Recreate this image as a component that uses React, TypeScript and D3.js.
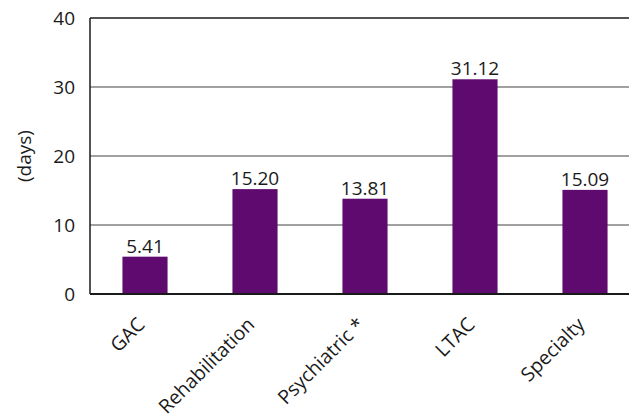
import React from "react";
import * as d3 from "d3";

// Average length of stay by hospital type
const categories = ["GAC", "Rehabilitation", "Psychiatric*", "LTAC", "Specialty"];
const lengthOfStay = [5.41, 15.2, 13.81, 31.12, 15.09];
const valueLabels = ["5.41", "15.20", "13.81", "31.12", "15.09"];
const yTicks = [0, 10, 20, 30, 40];

const W = 629;
const H = 419;
const FONT = "'Open Sans', 'Noto Sans', sans-serif";
const BAR = "#5e0a6e";

export default function App() {
  const x = d3
    .scaleBand<string>()
    .domain(categories)
    .range([90, 640])
    .paddingInner(0.59)
    .paddingOuter(0.295);
  const y = d3.scaleLinear().domain([0, 40]).range([294, 18]);

  return (
    <svg
      width={W}
      height={H}
      style={{ position: "absolute", left: 0, top: 0, background: "#fff" }}
      fontFamily={FONT}
    >
      {/* horizontal gridlines */}
      {yTicks
        .filter((t) => t !== 0 && t !== 40)
        .map((t) => (
          <line key={t} x1={90} x2={W} y1={y(t)} y2={y(t)} stroke="#808080" strokeWidth={1.5} />
        ))}
      <line x1={90} x2={W} y1={y(40)} y2={y(40)} stroke="#1a1a1a" strokeWidth={1.5} />

      {/* bars */}
      {categories.map((c, i) => (
        <rect
          key={c}
          x={x(c)}
          y={y(lengthOfStay[i])}
          width={x.bandwidth()}
          height={y(0) - y(lengthOfStay[i])}
          fill={BAR}
        />
      ))}

      {/* value labels */}
      {categories.map((c, i) => (
        <text
          key={c}
          x={(x(c) as number) + x.bandwidth() / 2}
          y={y(lengthOfStay[i]) - 4}
          textAnchor="middle"
          fontSize={19}
          fill="#1a1a1a"
        >
          {valueLabels[i]}
        </text>
      ))}

      {/* axes */}
      <line x1={90} x2={90} y1={y(40)} y2={y(0)} stroke="#1a1a1a" strokeWidth={1.5} />
      <line x1={90} x2={W} y1={y(0)} y2={y(0)} stroke="#1a1a1a" strokeWidth={2} />

      {yTicks.map((t) => (
        <text
          key={t}
          x={75}
          y={y(t)}
          dy="0.35em"
          textAnchor="end"
          fontSize={19}
          fill="#1a1a1a"
        >
          {t}
        </text>
      ))}

      <text
        transform={`translate(24,${(y(0) + y(40)) / 2}) rotate(-90)`}
        dy="0.35em"
        textAnchor="middle"
        fontSize={19}
        fill="#1a1a1a"
      >
        (days)
      </text>

      {categories.map((c) => {
        const cx = (x(c) as number) + x.bandwidth() / 2;
        const label = c === "Psychiatric*" ? "Psychiatric *" : c;
        return (
          <text
            key={c}
            transform={`translate(${cx - 4},321) rotate(-45)`}
            dy="0.35em"
            textAnchor="end"
            fontSize={19.5}
            fill="#1a1a1a"
          >
            {label}
          </text>
        );
      })}
    </svg>
  );
}
